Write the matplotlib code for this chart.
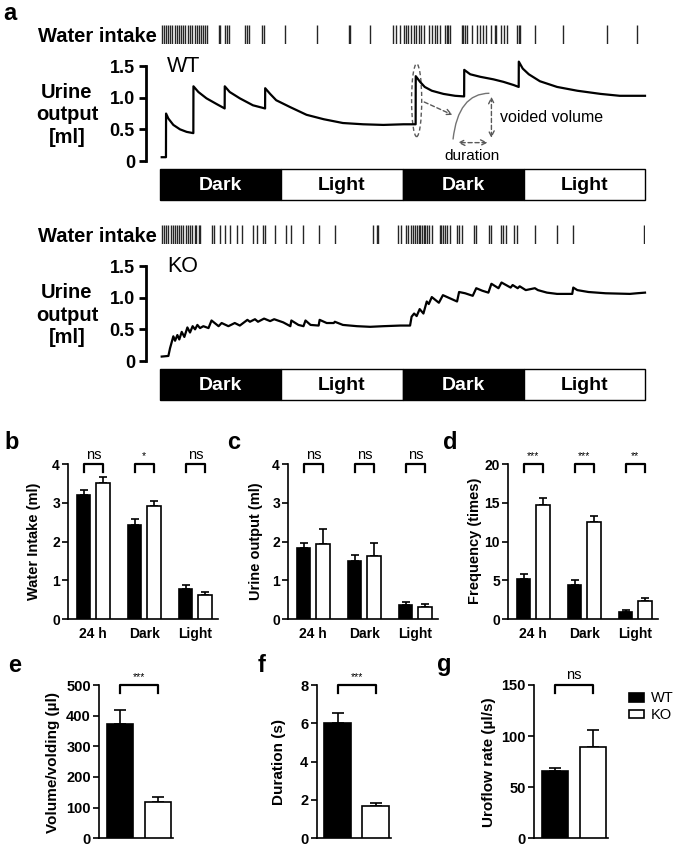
import numpy as np
import matplotlib.pyplot as plt
from matplotlib.patches import Ellipse, Rectangle, Patch, PathPatch
from matplotlib.path import Path

plt.rcParams['font.family'] = ['Liberation Sans', 'DejaVu Sans']
plt.rcParams['axes.linewidth'] = 1.2

# ---------------- panel a: metabolic cage traces ----------------
phase_labels = ['Dark', 'Light', 'Dark', 'Light']
phase_edges_h = [0, 12, 24, 36, 48]

# drinking events (h)
wt_drink_h = [0.2, 0.4, 0.6, 0.8, 1.0, 1.2, 1.5, 1.7, 1.9, 2.1, 2.3, 2.5, 2.8, 3.0,
              3.2, 3.5, 3.7, 3.9, 4.1, 4.3, 4.5, 4.7, 5.8, 5.9, 6.4, 6.6, 6.8, 8.4,
              8.6, 8.8, 10.1, 10.3, 12.4, 15.5, 18.7, 18.8, 20.8, 23.1, 23.4, 23.8,
              24.1, 24.3, 24.5, 24.8, 25.1, 25.3, 25.6, 25.8, 26.1, 26.6, 26.9, 27.2,
              27.4, 27.7, 28.2, 28.4, 28.5, 28.7, 29.9, 30.0, 30.2, 30.4, 30.9, 31.4,
              31.7, 32.0, 32.3, 32.8, 33.2, 33.3, 33.7, 34.0, 34.3, 35.3, 35.5, 35.6,
              37.1, 39.9, 44.2, 47.2]
ko_drink_h = [0.2, 0.4, 0.6, 0.8, 1.1, 1.3, 1.5, 1.7, 1.9, 2.1, 2.3, 2.6, 2.8, 3.0,
              3.2, 3.5, 3.6, 3.9, 4.0, 5.1, 5.3, 5.9, 6.4, 6.9, 7.6, 8.1, 9.2, 9.6,
              10.2, 10.4, 11.4, 12.5, 13.0, 14.2, 15.7, 17.3, 21.1, 21.5, 21.6, 23.6,
              23.9, 24.3, 24.5, 24.8, 25.0, 25.2, 25.4, 25.6, 25.7, 25.9, 26.1, 26.2,
              26.4, 26.6, 26.9, 27.7, 27.8, 28.0, 28.2, 28.4, 28.7, 29.4, 29.6, 29.9,
              31.1, 31.3, 32.6, 32.8, 33.7, 33.9, 34.2, 35.0, 35.3, 37.1, 39.3, 40.9,
              47.9]

# cumulative urine output traces (h, ml)
wt_time_h = [0.17, 0.59, 0.6, 0.83, 1.32, 1.98, 2.64, 3.3, 3.31, 3.8, 4.6, 5.6, 6.4,
             6.41, 6.9, 7.9, 9.2, 10.4, 10.41, 10.9, 11.5, 12.9, 14.5, 16.2, 18.1,
             20.1, 22.1, 24.1, 25.3, 25.31, 25.74, 26.2, 26.9, 28.05, 29.2, 30.1,
             30.11, 30.7, 31.7, 33.0, 34.0, 35.0, 35.5, 35.51, 35.9, 36.5, 37.6, 39.3,
             41.3, 43.6, 45.5, 48.0]
wt_urine_ml = [0.06, 0.06, 0.75, 0.67, 0.57, 0.50, 0.46, 0.44, 1.18, 1.09, 0.99, 0.90,
               0.83, 1.18, 1.09, 0.99, 0.88, 0.83, 1.15, 1.06, 0.96, 0.85, 0.73, 0.66,
               0.60, 0.58, 0.57, 0.58, 0.58, 1.34, 1.25, 1.17, 1.11, 1.06, 1.03, 1.02,
               1.44, 1.37, 1.33, 1.29, 1.25, 1.20, 1.17, 1.57, 1.46, 1.37, 1.26, 1.17,
               1.11, 1.06, 1.03, 1.03]
ko_time_h = [0.17, 0.83, 0.99, 1.32, 1.49, 1.72, 1.91, 2.15, 2.41, 2.71, 2.97, 3.23,
             3.47, 3.7, 3.96, 4.29, 4.8, 5.1, 5.8, 6.1, 6.77, 7.4, 7.9, 8.65, 8.9, 9.4,
             9.7, 10.3, 10.9, 11.3, 12.2, 12.9, 13.0, 13.7, 14.2, 14.4, 14.9, 15.7,
             15.8, 16.5, 17.2, 17.3, 18.1, 19.5, 20.8, 22.1, 23.8, 24.75, 24.9, 25.15,
             25.4, 25.7, 26.07, 26.4, 26.6, 26.9, 27.6, 28.0, 28.7, 29.4, 29.6, 30.2,
             30.95, 31.3, 31.9, 32.5, 32.8, 33.5, 33.8, 34.7, 34.9, 35.4, 35.6, 36.2,
             37.1, 37.4, 38.3, 39.3, 40.8, 40.9, 41.3, 42.4, 44.1, 46.5, 47.2, 48.0]
ko_urine_ml = [0.07, 0.08, 0.20, 0.39, 0.32, 0.41, 0.34, 0.46, 0.38, 0.53, 0.45, 0.55,
               0.50, 0.57, 0.52, 0.55, 0.52, 0.64, 0.55, 0.60, 0.55, 0.60, 0.56, 0.65,
               0.62, 0.66, 0.62, 0.67, 0.63, 0.66, 0.61, 0.55, 0.64, 0.57, 0.55, 0.64,
               0.57, 0.56, 0.65, 0.60, 0.60, 0.62, 0.57, 0.55, 0.54, 0.55, 0.56, 0.56,
               0.70, 0.75, 0.71, 0.82, 0.75, 0.94, 0.90, 1.01, 0.92, 1.04, 0.99, 0.94,
               1.09, 1.07, 1.03, 1.15, 1.11, 1.08, 1.22, 1.15, 1.24, 1.16, 1.20, 1.15,
               1.18, 1.12, 1.15, 1.12, 1.08, 1.06, 1.06, 1.16, 1.12, 1.09, 1.07, 1.06,
               1.07, 1.08]

# ---------------- panels b-d ----------------
periods = ['24 h', 'Dark', 'Light']
water_wt, water_wt_sem = [3.21, 2.43, 0.77], [0.13, 0.15, 0.11]
water_ko, water_ko_sem = [3.51, 2.92, 0.61], [0.15, 0.14, 0.08]
urine_wt, urine_wt_sem = [1.84, 1.51, 0.36], [0.13, 0.15, 0.09]
urine_ko, urine_ko_sem = [1.93, 1.63, 0.30], [0.39, 0.34, 0.09]
freq_wt, freq_wt_sem = [5.17, 4.40, 0.91], [0.65, 0.64, 0.25]
freq_ko, freq_ko_sem = [14.74, 12.54, 2.33], [0.95, 0.82, 0.43]
water_sig = ['ns', '*', 'ns']
urine_sig = ['ns', 'ns', 'ns']
freq_sig = ['***', '***', '**']

# ---------------- panels e-g (WT, KO) ----------------
volume_ul, volume_sem = [372, 120], [46, 16]
duration_s, duration_sem = [6.0, 1.69], [0.52, 0.14]
uroflow, uroflow_sem = [65.6, 89.3], [3.2, 16.9]

W, H = 675, 846
fig = plt.figure(figsize=(W / 100, H / 100), dpi=100)


def px_axes(left, top, right, bottom):
    return fig.add_axes([left / W, 1 - bottom / H, (right - left) / W, (bottom - top) / H])


def fig_text(x, y, s, **kw):
    return fig.text(x / W, 1 - y / H, s, **kw)


def trace_panel(dy, drink_h, time_h, urine_ml, tag):
    ax_d = px_axes(160, 25 + dy, 645, 44 + dy)
    ax_d.vlines(drink_h, 0, 1, color='0.15', lw=1.0)
    ax_d.set_xlim(0, 48)
    ax_d.set_ylim(0, 1)
    ax_d.axis('off')
    fig_text(157, 36 + dy, 'Water intake', ha='right', va='center',
             fontsize=14.5, fontweight='bold')

    y0, ppm = 161 + dy, 63.3
    ax = px_axes(160, y0 - 1.62 * ppm, 645, y0)
    ax.plot(time_h, urine_ml, color='k', lw=1.6, clip_on=False)
    ax.set_xlim(0, 48)
    ax.set_ylim(0, 1.62)
    for s in ['top', 'right', 'bottom']:
        ax.spines[s].set_visible(False)
    ax.spines['left'].set_position(('outward', 10))
    ax.spines['left'].set_bounds(0, 1.5)
    ax.spines['left'].set_linewidth(2)
    ax.set_xticks([])
    ax.set_yticks([0, 0.5, 1.0, 1.5])
    ax.set_yticklabels(['0', '0.5', '1.0', '1.5'], fontsize=13, fontweight='bold')
    ax.tick_params(axis='y', length=5, width=2, pad=3)
    ax.text(0.7, 1.5, tag, fontsize=15.5, va='center')
    fig_text(67, 115 + dy, 'Urine\noutput\n[ml]', ha='center', va='center',
             fontsize=14.5, fontweight='bold', linespacing=1.25)

    ax_p = px_axes(160, 169 + dy, 645, 200 + dy)
    for i, lab in enumerate(phase_labels):
        dark = lab == 'Dark'
        x0, x1 = phase_edges_h[i], phase_edges_h[i + 1]
        ax_p.add_patch(Rectangle((x0, 0), x1 - x0, 1, fc='k' if dark else 'w',
                                 ec='k', lw=1, clip_on=False))
        ax_p.text((x0 + x1) / 2, 0.48, lab, color='w' if dark else 'k', ha='center',
                  va='center', fontsize=14, fontweight='bold')
    ax_p.set_xlim(0, 48)
    ax_p.set_ylim(0, 1)
    ax_p.axis('off')
    return ax


ax_wt = trace_panel(0, wt_drink_h, wt_time_h, wt_urine_ml, 'WT')
trace_panel(200, ko_drink_h, ko_time_h, ko_urine_ml, 'KO')

# voiding annotation on WT trace
dash = dict(color='0.35', lw=1.0, linestyle=(0, (3, 2)))
ax_wt.add_patch(Ellipse((25.4, 0.96), 1.0, 1.15, fill=False, ec='0.35', lw=1.0,
                        linestyle=(0, (3, 2)), clip_on=False))
ax_wt.annotate('', xy=(29.2, 0.71), xytext=(25.9, 0.95),
               arrowprops=dict(arrowstyle='->', **dash))
curve = Path([(29.0, 0.34), (29.5, 1.07), (32.6, 1.07)],
             [Path.MOVETO, Path.CURVE3, Path.CURVE3])
ax_wt.add_patch(PathPatch(curve, fill=False, ec='0.45', lw=1.0))
ax_wt.annotate('', xy=(32.8, 1.06), xytext=(32.8, 0.32),
               arrowprops=dict(arrowstyle='<->', **dash))
ax_wt.annotate('', xy=(29.2, 0.29), xytext=(32.7, 0.29),
               arrowprops=dict(arrowstyle='<->', **dash))
ax_wt.text(38.8, 0.68, 'voided volume', ha='center', va='center', fontsize=11.5)
ax_wt.text(30.9, 0.08, 'duration', ha='center', va='center', fontsize=11)

# ---------------- grouped bars b-d ----------------
OFF, BW = 0.19, 0.26


def style_axes(ax, size):
    for s in ['top', 'right']:
        ax.spines[s].set_visible(False)
    ax.tick_params(axis='y', length=4, width=1.2, pad=2, labelsize=size)
    for t in ax.get_yticklabels():
        t.set_fontweight('bold')


def grouped_panel(left, ymax, ystep, wt, wt_sem, ko, ko_sem, sig, ylabel, ylab_x):
    ax = px_axes(left, 464.3, left + 150, 619)
    x = np.arange(len(periods))
    ax.bar(x - OFF, wt, BW, color='k', ec='k', lw=1.2, zorder=3)
    ax.bar(x + OFF, ko, BW, color='w', ec='k', lw=1.2, zorder=3)
    ax.errorbar(x - OFF, wt, yerr=[np.zeros(3), wt_sem], fmt='none', ecolor='k',
                elinewidth=1.2, capsize=2.8, capthick=1.2, zorder=2)
    ax.errorbar(x + OFF, ko, yerr=[np.zeros(3), ko_sem], fmt='none', ecolor='k',
                elinewidth=1.2, capsize=2.8, capthick=1.2, zorder=2)
    for xi, s in zip(x, sig):
        ax.plot([xi - OFF, xi - OFF, xi + OFF, xi + OFF],
                [ymax * 0.953, ymax, ymax, ymax * 0.953], color='k', lw=1.6,
                clip_on=False)
        ax.annotate(s, xy=(xi, ymax), xytext=(0, 2), textcoords='offset points',
                    ha='center', va='bottom', fontsize=10.5 if s == 'ns' else 7.5)
    ax.set_xlim(-0.49, 2.45)
    ax.set_ylim(0, ymax)
    ax.set_yticks(np.arange(0, ymax + 0.1, ystep))
    ax.set_xticks(x)
    ax.set_xticklabels(periods, fontsize=10, fontweight='bold')
    ax.tick_params(axis='x', length=0, pad=6)
    style_axes(ax, 10)
    fig_text(ylab_x, 541, ylabel, rotation=90, ha='center', va='center',
             fontsize=10.5, fontweight='bold')
    return ax


grouped_panel(68.3, 4, 1, water_wt, water_wt_sem, water_ko, water_ko_sem,
              water_sig, 'Water Intake (ml)', 34)
grouped_panel(288.3, 4, 1, urine_wt, urine_wt_sem, urine_ko, urine_ko_sem,
              urine_sig, 'Urine output (ml)', 256)
grouped_panel(508.3, 20, 5, freq_wt, freq_wt_sem, freq_ko, freq_ko_sem,
              freq_sig, 'Frequency (times)', 475)


# ---------------- pair bars e-g ----------------
def pair_panel(left, ymax, ystep, vals, sems, sig, ylabel, ylab_x):
    ax = px_axes(left, 685, left + 74, 838.3)
    x = np.arange(2)
    ax.bar(x, vals, 0.7, color=['k', 'w'], ec='k', lw=1.2, zorder=3)
    ax.errorbar(x, vals, yerr=[np.zeros(2), sems], fmt='none', ecolor='k',
                elinewidth=1.2, capsize=4, capthick=1.2, zorder=2)
    ax.plot([0, 0, 1, 1], [ymax * 0.95, ymax, ymax, ymax * 0.95], color='k',
            lw=1.6, clip_on=False)
    ax.annotate(sig, xy=(0.5, ymax), xytext=(0, 2), textcoords='offset points',
                ha='center', va='bottom', fontsize=10.5 if sig == 'ns' else 7.5)
    ax.set_xlim(-0.55, 1.4)
    ax.set_ylim(0, ymax)
    ax.set_yticks(np.arange(0, ymax + 0.1, ystep))
    ax.set_xticks([])
    style_axes(ax, 10.5)
    fig_text(ylab_x, 762, ylabel, rotation=90, ha='center', va='center',
             fontsize=11, fontweight='bold')
    return ax


pair_panel(99.3, 500, 100, volume_ul, volume_sem, '***', 'Volume/volding (µl)', 53)
pair_panel(316.7, 8, 2, duration_s, duration_sem, '***', 'Duration (s)', 279)
pair_panel(534, 150, 50, uroflow, uroflow_sem, 'ns', 'Uroflow rate (µl/s)', 489)

fig.legend(handles=[Patch(fc='k', ec='k', lw=1.2), Patch(fc='w', ec='k', lw=1.2)],
           labels=['WT', 'KO'], loc='upper left', bbox_to_anchor=(622 / W, 1 - 684 / H),
           frameon=False, fontsize=10.5, handlelength=1.0, handleheight=0.55,
           handletextpad=0.5, labelspacing=0.2, borderpad=0)

# panel letters
for lab, x, y in [('a', 3, 13), ('b', 4, 442), ('c', 227, 442), ('d', 443, 442),
                  ('e', 8, 665), ('f', 258, 665), ('g', 437, 665)]:
    fig_text(x, y, lab, ha='left', va='center', fontsize=17, fontweight='bold')

fig.savefig('out.png', dpi=100)
